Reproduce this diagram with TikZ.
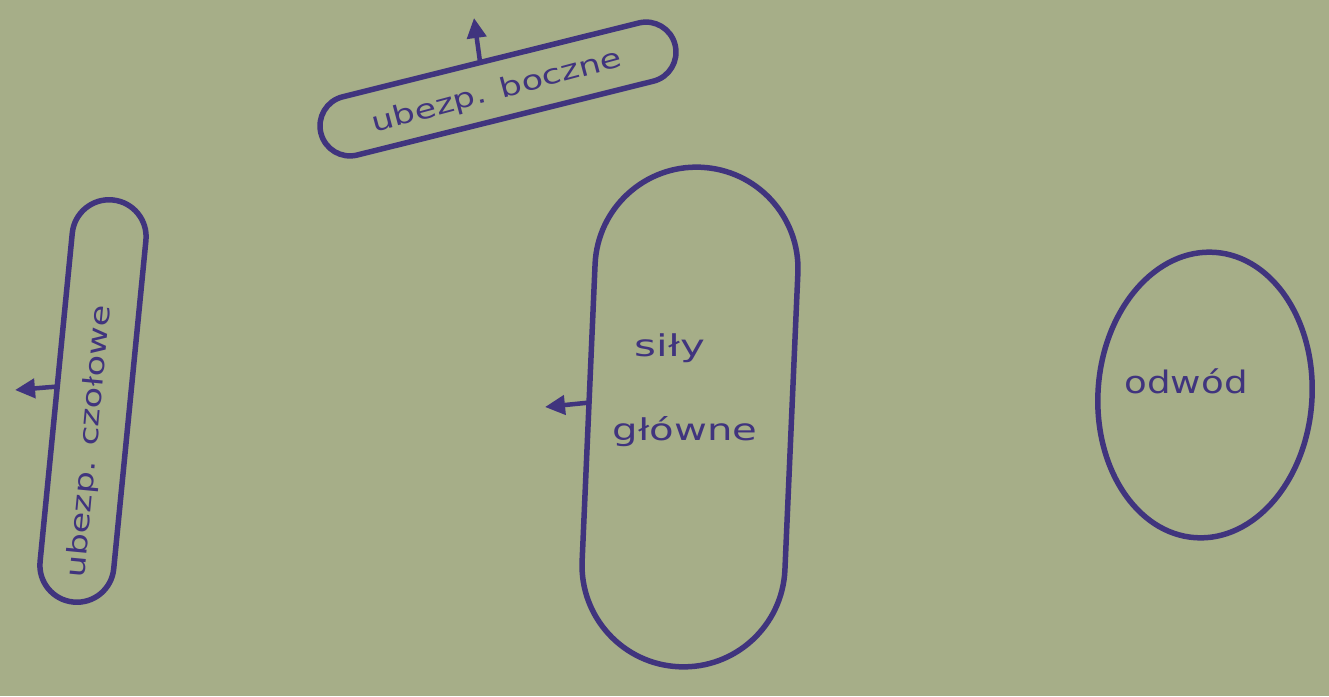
\documentclass[tikz,border=0pt]{standalone}
\usepackage{fontspec}
\setmainfont{DejaVu Sans}
\usetikzlibrary{arrows.meta,calc,shapes.geometric}
\definecolor{paper}{RGB}{166,174,136}
\definecolor{ink}{RGB}{64,52,126}
\tikzset{
  unit/.style={draw=ink, line width=5.5pt, rounded corners=#1, inner sep=0pt, outer sep=0pt},
  oval/.style={draw=ink, line width=5.5pt, ellipse, inner sep=0pt, outer sep=0pt},
  lbl/.style={text=ink, inner sep=0pt, font=\fontsize{27}{30}\selectfont},
  arr/.style={draw=ink, line width=4.5pt, -{Triangle[length=20pt,width=19pt]}},
}
\begin{document}
\begin{tikzpicture}[x=1pt,y=-1pt]
\fill[paper] (0,0) rectangle (1329,696);
\useasboundingbox (0,0) rectangle (1329,696);

% ubezp. boczne
\node[unit=29.9pt, minimum width=365pt, minimum height=60pt, rotate=14] (boczne) at (498,89) {};
\node[lbl, rotate=15] (bocznetxt) at (497,92) {\scalebox{1.3}[1]{ubezp. boczne}};
\coordinate (bocznetip) at (474,18);
\draw[arr] ($(boczne.north west)!0.47!(boczne.north east)$) -- (bocznetip);

% ubezp. czolowe
\node[unit=36.9pt, minimum width=404pt, minimum height=74pt, rotate=84.4] (czolowe) at (93,401) {};
\node[lbl, rotate=84.6] (czolowetxt) at (90,442) {\scalebox{1.3}[1]{ubezp. czołowe}};
\coordinate (czolowetip) at (15,390);
\draw[arr] ($(czolowe.north west)!0.527!(czolowe.north east)$) -- (czolowetip);

% sily glowne
\node[unit=101.4pt, minimum width=500pt, minimum height=203pt, rotate=87.5] (glowne) at (690,417) {};
\node[lbl, font=\fontsize{30}{33}\selectfont] (silytxt) at (670,348) {\scalebox{1.4}[1]{siły}};
\node[lbl, font=\fontsize{30}{33}\selectfont] (glownetxt) at (685,432) {\scalebox{1.34}[1]{główne}};
\coordinate (glownetip) at (545,407);
\draw[arr] ($(glowne.north west)!0.52!(glowne.north east)$) -- (glownetip);

% odwod
\node[oval, minimum width=214pt, minimum height=286pt, rotate=-4] (odwod) at (1205,395) {};
\node[lbl, font=\fontsize{31}{34}\selectfont] (odwodtxt) at (1186,381) {\scalebox{1.2}[1]{odwód}};
\end{tikzpicture}
\end{document}
